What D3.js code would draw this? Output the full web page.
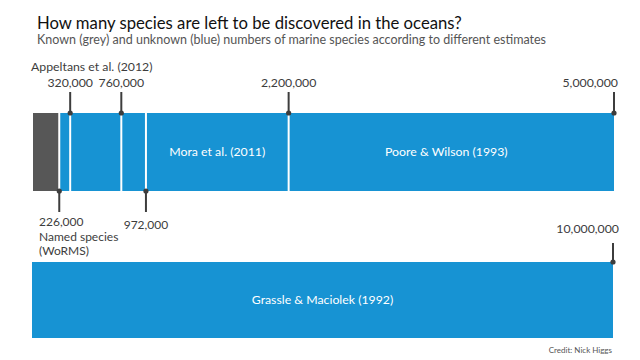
<!DOCTYPE html>
<html>
<head>
<meta charset="utf-8">
<script src="https://cdn.jsdelivr.net/npm/d3@7/dist/d3.min.js"></script>
<style>
  html, body { margin: 0; padding: 0; background: #fff; }
  svg { display: block; font-family: Lato, "Open Sans", sans-serif; }
</style>
</head>
<body>
<svg id="chart" width="640" height="360"></svg>
<script>
// ---- data ----
const titleText = "How many species are left to be discovered in the oceans?";
const subtitleText = "Known (grey) and unknown (blue) numbers of marine species according to different estimates";
const creditText = "Credit: Nick Higgs";

const topBoundaries = [0, 226000, 320000, 760000, 972000, 2200000, 5000000];
const topSegmentKinds = ["known", "unknown", "unknown", "unknown", "unknown", "unknown"];
const topSegmentLabels = ["", "", "", "", "Mora et al. (2011)", "Poore & Wilson (1993)"];

const ticksAboveValues = [320000, 760000, 2200000, 5000000];
const ticksAboveLabels = ["320,000", "760,000", "2,200,000", "5,000,000"];
const ticksBelowValues = [226000, 972000];
const ticksBelowLabels = ["226,000", "972,000"];
const namedSpeciesNote = ["Named species", "(WoRMS)"];
const appeltansNote = "Appeltans et al. (2012)";

const bottomBoundaries = [0, 10000000];
const bottomSegmentLabels = ["Grassle & Maciolek (1992)"];
const bottomTickValues = [10000000];
const bottomTickLabels = ["10,000,000"];

// ---- drawing ----
const svg = d3.select("#chart");
const BLUE = "#1793d3", GREY = "#575757", INK = "#3d3d3d";

const xTop = d3.scaleLinear().domain([0, 5000000]).range([33, 614]);
const xBot = d3.scaleLinear().domain([0, 10000000]).range([32, 613]);

const topY = 113, topH = 78;
const botY = 262, botH = 76;

svg.append("text").attr("x", 37).attr("y", 29)
  .attr("font-size", 16.7).attr("fill", "#111").text(titleText);
svg.append("text").attr("x", 37).attr("y", 44)
  .attr("font-size", 12.5).attr("fill", "#555").text(subtitleText);

// top segments
const segs = topBoundaries.slice(0, -1).map((a, i) => ({
  a, b: topBoundaries[i + 1], kind: topSegmentKinds[i], label: topSegmentLabels[i], i
}));
const n = segs.length;
svg.selectAll("rect.top").data(segs).join("rect")
  .attr("class", "top")
  .attr("x", d => xTop(d.a) + (d.i === 0 ? 0 : 1))
  .attr("width", d => (xTop(d.b) - (d.i === n - 1 ? 0 : 1)) - (xTop(d.a) + (d.i === 0 ? 0 : 1)))
  .attr("y", topY).attr("height", topH)
  .attr("fill", d => d.kind === "known" ? GREY : BLUE);
svg.selectAll("text.toplab").data(segs.filter(d => d.label)).join("text")
  .attr("class", "toplab")
  .attr("x", d => (xTop(d.a) + xTop(d.b)) / 2 - (d.i === n - 1 ? 5 : 0))
  .attr("y", topY + topH / 2 + 4)
  .attr("text-anchor", "middle").attr("font-size", 12.3).attr("fill", "#fff")
  .text(d => d.label);

// bottom bar
const bsegs = bottomBoundaries.slice(0, -1).map((a, i) => ({ a, b: bottomBoundaries[i + 1], label: bottomSegmentLabels[i] }));
svg.selectAll("rect.bot").data(bsegs).join("rect")
  .attr("x", d => xBot(d.a)).attr("width", d => xBot(d.b) - xBot(d.a))
  .attr("y", botY).attr("height", botH).attr("fill", BLUE);
svg.selectAll("text.botlab").data(bsegs).join("text")
  .attr("x", d => (xBot(d.a) + xBot(d.b)) / 2)
  .attr("y", botY + botH / 2 + 4)
  .attr("text-anchor", "middle").attr("font-size", 12.3).attr("fill", "#fff")
  .text(d => d.label);

function tick(x, y1, y2, dotY) {
  svg.append("line").attr("x1", x).attr("x2", x).attr("y1", y1).attr("y2", y2)
    .attr("stroke", INK).attr("stroke-width", 2);
  svg.append("circle").attr("cx", x).attr("cy", dotY).attr("r", 2.6).attr("fill", INK);
}

// ticks above top bar
ticksAboveValues.forEach((v, i) => {
  const x = xTop(v);
  tick(x, 92, topY, topY);
  const last = i === ticksAboveValues.length - 1;
  svg.append("text").attr("x", last ? x + 4 : x).attr("y", 87)
    .attr("text-anchor", last ? "end" : "middle")
    .attr("font-size", 12.3).attr("fill", INK).text(ticksAboveLabels[i]);
});
svg.append("text").attr("x", 31).attr("y", 71)
  .attr("font-size", 12.3).attr("fill", INK).text(appeltansNote);

// ticks below top bar
ticksBelowValues.forEach((v, i) => {
  const x = xTop(v);
  tick(x, topY + topH, 212, topY + topH);
  svg.append("text").attr("x", i === 0 ? 39 : x).attr("y", i === 0 ? 226 : 229)
    .attr("text-anchor", i === 0 ? "start" : "middle")
    .attr("font-size", 12).attr("fill", INK).text(ticksBelowLabels[i]);
});
namedSpeciesNote.forEach((line, j) => {
  svg.append("text").attr("x", 39).attr("y", 240.5 + j * 14.5)
    .attr("font-size", 12).attr("fill", INK).text(line);
});

// tick above bottom bar
bottomTickValues.forEach((v, i) => {
  const x = xBot(v);
  tick(x, 243, botY, botY);
  svg.append("text").attr("x", x + 6).attr("y", 233)
    .attr("text-anchor", "end").attr("font-size", 12.3).attr("fill", INK).text(bottomTickLabels[i]);
});

svg.append("text").attr("x", 612).attr("y", 353)
  .attr("text-anchor", "end").attr("font-size", 8).attr("fill", "#555").text(creditText);
</script>
</body>
</html>
